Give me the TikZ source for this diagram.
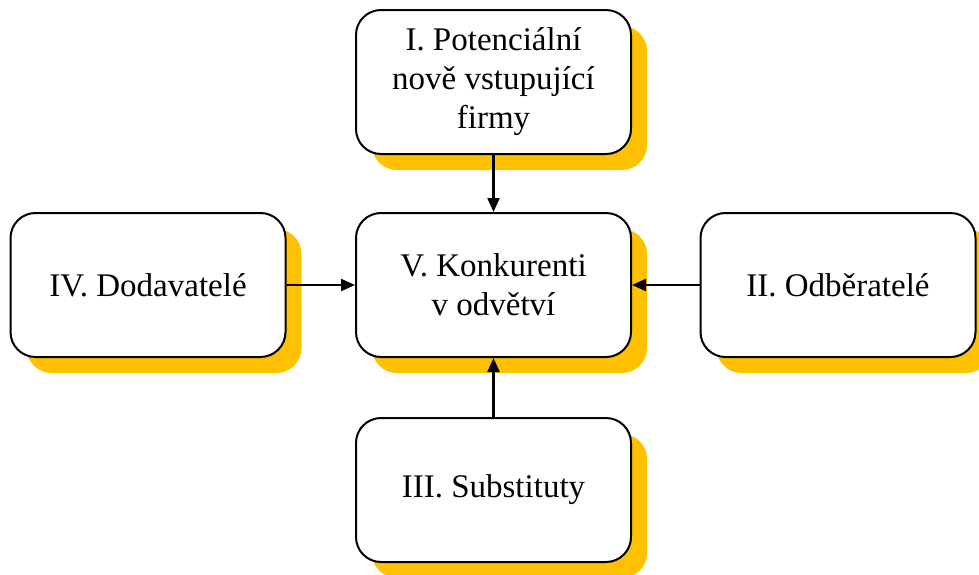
\documentclass[tikz,border=0pt]{standalone}
\usepackage{fontspec}
\setmainfont{Liberation Serif}
\usetikzlibrary{positioning,shadows,arrows.meta}
\definecolor{gold}{HTML}{FFC000}

\begin{document}
\begin{tikzpicture}[x=1pt,y=-1pt,>={Triangle[length=14pt,width=12pt]},
  force/.style={draw,line width=2pt,rounded corners=25pt,fill=white,
    minimum width=275pt,minimum height=144pt,inner sep=0pt,align=center,
    font=\fontsize{33}{39}\selectfont,
    drop shadow={fill=gold,opacity=1,shadow xshift=16pt,shadow yshift=-16pt}},
  link/.style={->,line width=2.2pt}]
  \useasboundingbox (0,0) rectangle (979,574);
  \node[force] (rivals) at (493.5,285) {V. Konkurenti\\v odvětví};
  \node[force] (entrants) at (493.5,82) {I. Potenciální\\nově vstupující\\firmy};
  \node[force] (suppliers) at (148,285) {IV. Dodavatelé};
  \node[force] (buyers) at (838,285) {II. Odběratelé};
  \node[force] (substitutes) at (493.5,490) {III. Substituty};
  \draw[link] (entrants) -- (rivals);
  \draw[link] (suppliers) -- (rivals);
  \draw[link] (buyers) -- (rivals);
  \draw[link] (substitutes) -- (rivals);
\end{tikzpicture}
\end{document}
